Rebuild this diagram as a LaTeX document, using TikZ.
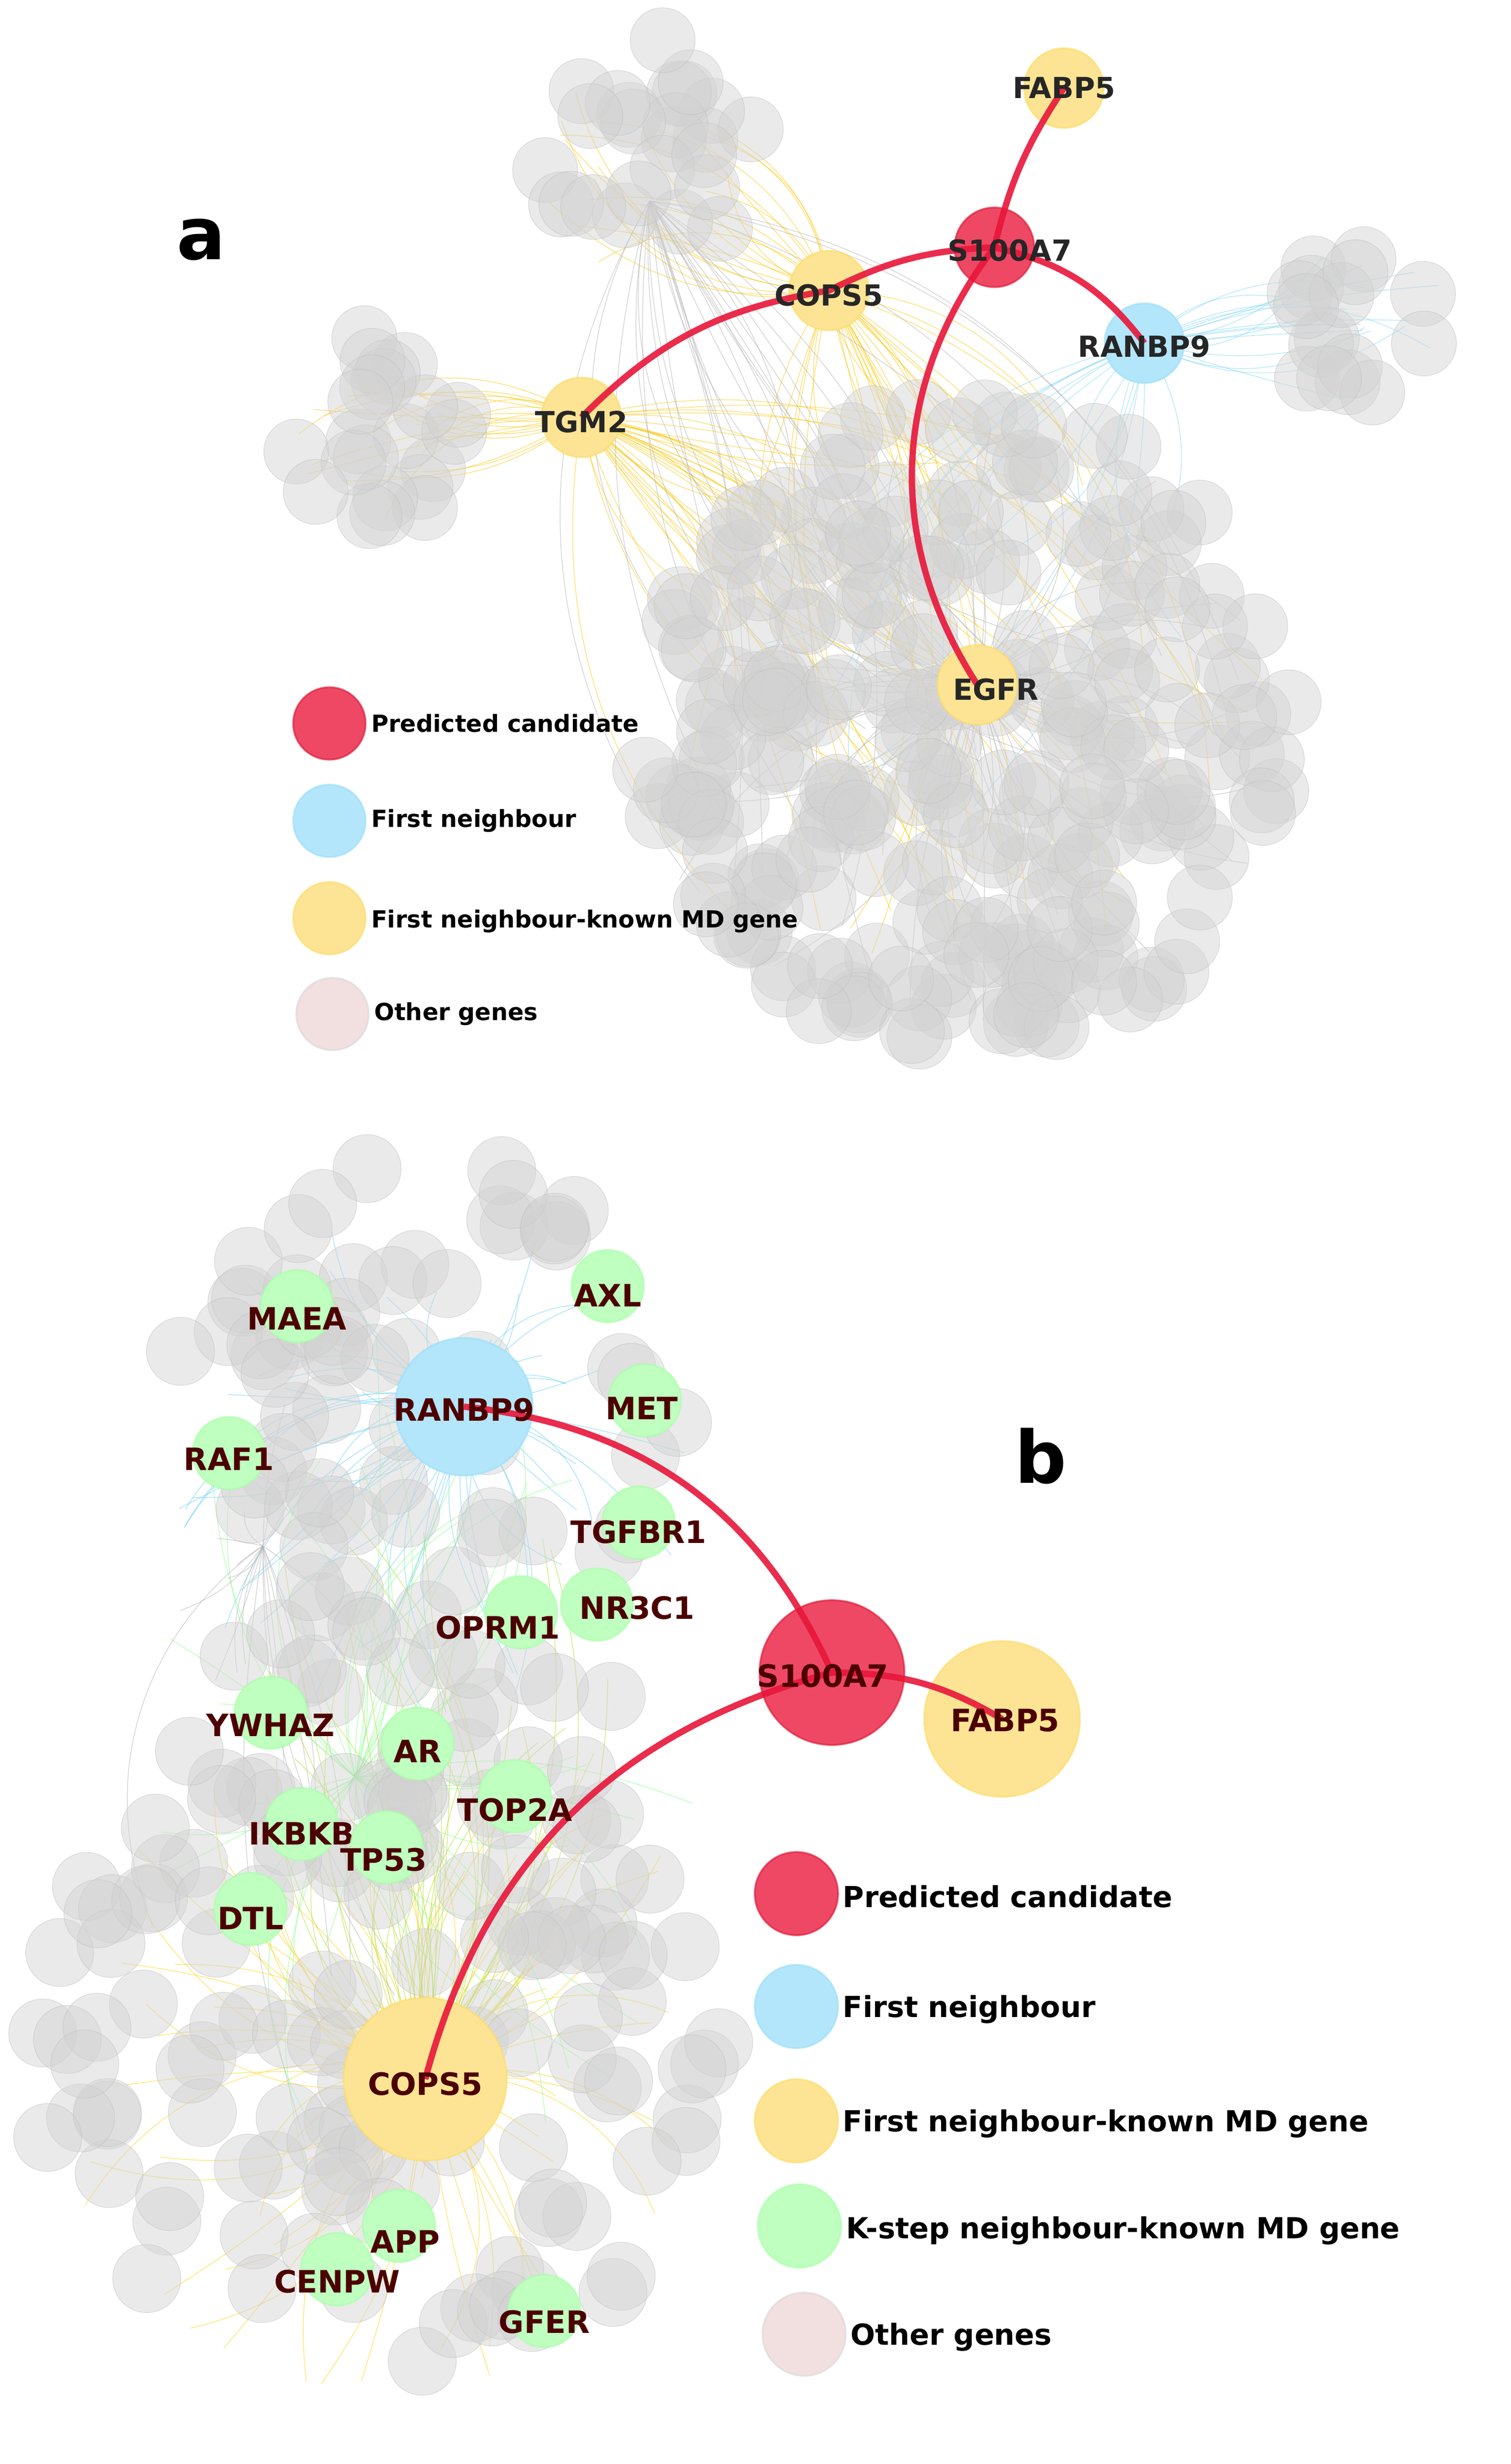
\documentclass[tikz,border=0pt]{standalone}
\usepackage{fontspec}
\setmainfont{DejaVu Sans}
\begin{document}
\begin{tikzpicture}[x=0.03cm,y=-0.03cm,
 gc/.style={fill=gray!35,fill opacity=0.45,draw=gray!55,draw opacity=0.5,line width=0.3pt},
 lab/.style={font=\bfseries\fontsize{16}{16}\selectfont,text=black!85},
 labb/.style={font=\bfseries\fontsize{17}{17}\selectfont,text=red!30!black},
 hub/.style={circle,inner sep=0pt,draw opacity=0.6,line width=1pt},
 redn/.style={hub,fill={rgb,255:red,236;green,40;blue,75},fill opacity=0.85,draw={rgb,255:red,220;green,20;blue,50}},
 yel/.style={hub,fill=yellow!55!orange!40,draw=yellow!60!orange!60},
 blu/.style={hub,fill=cyan!30,draw=cyan!40},
 grn/.style={hub,fill=green!25,draw=green!35,minimum size=40},
 oth/.style={hub,fill=gray!25!pink!40,draw=gray!30},
 redE/.style={draw={rgb,255:red,232;green,22;blue,58},line width=3.5pt,opacity=0.9},
 leg/.style={font=\bfseries\fontsize{13}{13}\selectfont,anchor=west},
 legb/.style={font=\bfseries\fontsize{16}{16}\selectfont,anchor=west}]
\useasboundingbox (0,0) rectangle (977,1594);
\fill[white] (0,0) rectangle (977,1594);
\pgfmathsetseed{11}
\newcommand\cluster[6]{%
 \foreach \i in {1,...,#5}{
  \pgfmathsetmacro\aa{360*rnd}\pgfmathsetmacro\rr{sqrt(rnd)}
  \fill[gc] ({#1+#3*\rr*cos(\aa)},{#2+#4*\rr*sin(\aa)}) circle (#6);}}
\newcommand\spokes[8]{%
 \foreach \i in {1,...,#7}{
  \pgfmathsetmacro\aa{360*rnd}\pgfmathsetmacro\rr{sqrt(rnd)}\pgfmathsetmacro\bb{40*rand}
  \draw[#8,line width=0.4pt,opacity=0.55] (#1,#2) to[bend left=\bb] ({#3+#5*\rr*cos(\aa)},{#4+#6*\rr*sin(\aa)});}}
\spokes{376}{270}{620}{460}{200}{200}{40}{yellow!60!orange}
\spokes{536}{188}{620}{460}{200}{200}{30}{yellow!60!orange}
\spokes{536}{188}{410}{110}{70}{70}{20}{yellow!60!orange}
\spokes{376}{270}{240}{280}{60}{60}{20}{yellow!60!orange}
\spokes{740}{222}{880}{210}{60}{50}{18}{cyan!50}
\spokes{740}{222}{620}{420}{150}{120}{15}{cyan!50}
\spokes{632}{443}{620}{470}{210}{200}{80}{gray!60}
\spokes{420}{130}{620}{470}{200}{200}{30}{gray!60}
\cluster{625}{470}{210}{210}{260}{21}
\cluster{245}{280}{60}{65}{22}{21}
\cluster{420}{95}{75}{70}{25}{21}
\cluster{875}{210}{60}{45}{16}{21}
\node[font=\bfseries\fontsize{40}{40}\selectfont] (la) at (130,155) {a};
\node[yel,minimum size=44] (aF) at (688,57) {};
\node[redn,minimum size=44] (aS) at (643,160) {};
\node[yel,minimum size=44] (aC) at (536,188) {};
\node[blu,minimum size=44] (aR) at (740,222) {};
\node[yel,minimum size=44] (aT) at (376,270) {};
\node[yel,minimum size=44] (aE) at (632,443) {};
\draw[redE] (aT.center) to[bend left=18] (aC.center) to[bend left=12] (aS.center);
\draw[redE] (aS.center) to[bend left=10] (aF.center);
\draw[redE] (aS.center) to[bend left=20] (aR.center);
\draw[redE] (aS.center) to[bend right=35] (aE.center);
\node[lab] at (688,57) {FABP5};
\node[lab] at (653,162) {S100A7};
\node[lab] at (536,191) {COPS5};
\node[lab] at (740,224) {RANBP9};
\node[lab] at (376,273) {TGM2};
\node[lab] at (644,446) {EGFR};
\node[redn,minimum size=40] (l1) at (213,468) {}; \node[leg] at (236,468) {Predicted candidate};
\node[blu,minimum size=40] (l2) at (213,531) {}; \node[leg] at (236,531) {First neighbour};
\node[yel,minimum size=40] (l3) at (213,594) {}; \node[leg] at (236,596) {First neighbour-known MD gene};
\node[oth,minimum size=40] (l4) at (215,656) {}; \node[leg] at (238,656) {Other genes};
% ---- panel b
\spokes{300}{910}{280}{950}{170}{170}{60}{cyan!60}
\spokes{275}{1345}{250}{1330}{220}{220}{90}{yellow!70!orange}
\spokes{275}{1345}{270}{1100}{130}{140}{40}{yellow!70!green}
\spokes{230}{1150}{270}{1150}{180}{300}{50}{green!50}
\spokes{170}{1000}{180}{1150}{100}{250}{20}{gray!60}
\cluster{280}{900}{170}{150}{60}{22}
\cluster{245}{1330}{225}{210}{120}{22}
\cluster{260}{1120}{140}{110}{30}{22}
\node[font=\bfseries\fontsize{40}{40}\selectfont] (lb) at (673,942) {b};
\node[blu,minimum size=76] (bR) at (300,910) {};
\node[redn,minimum size=80] (bS) at (538,1082) {};
\node[yel,minimum size=86] (bF) at (648,1112) {};
\node[yel,minimum size=90] (bC) at (275,1345) {};
\draw[redE] (bR.center) to[bend left=30] (bS.center);
\draw[redE] (bS.center) to[bend left=15] (bF.center);
\draw[redE] (bS.center) to[bend right=30] (bC.center);
\foreach \n/\x/\y/\lx/\ly in {MAEA/192/845/192/853,AXL/393/832/393/838,MET/417/906/415/911,RAF1/148/940/148/944,TGFBR1/413/985/413/991,NR3C1/386/1038/412/1040,OPRM1/337/1043/322/1053,YWHAZ/175/1108/175/1116,AR/270/1128/270/1133,TOP2A/333/1162/333/1171,IKBKB/195/1180/195/1186,TP53/250/1195/248/1203,DTL/162/1235/162/1241,APP/258/1440/262/1450,CENPW/218/1468/218/1476,GFER/352/1495/352/1502}{
 \node[grn] (g\n) at (\x,\y) {};
 \node[labb] at (\lx,\ly) {\n};}
\node[labb] at (300,912) {RANBP9};
\node[labb] at (532,1084) {S100A7};
\node[labb] at (650,1113) {FABP5};
\node[labb] at (275,1348) {COPS5};
\node[redn,minimum size=46] (m1) at (515,1225) {}; \node[legb] at (541,1227) {Predicted candidate};
\node[blu,minimum size=46] (m2) at (515,1298) {}; \node[legb] at (541,1300) {First neighbour};
\node[yel,minimum size=46] (m3) at (515,1372) {}; \node[legb] at (541,1374) {First neighbour-known MD gene};
\node[grn,minimum size=46] (m4) at (517,1440) {}; \node[legb] at (543,1443) {K-step neighbour-known MD gene};
\node[oth,minimum size=46] (m5) at (520,1510) {}; \node[legb] at (546,1512) {Other genes};
\end{tikzpicture}
\end{document}
